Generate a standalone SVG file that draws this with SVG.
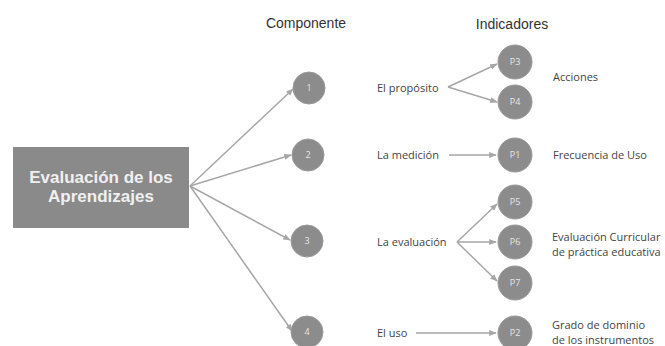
<svg xmlns="http://www.w3.org/2000/svg" width="665" height="346" viewBox="0 0 665 346">
<defs>
<style>
.conn{stroke:#a6a6a6;stroke-width:1.5;fill:none;marker-end:url(#arr)}
.c{fill:#8c8c8c;stroke:#9a9a9a;stroke-width:1}
.cn{font-family:"Open Sans","Liberation Sans",sans-serif;font-size:9px;fill:#e6e6e6;text-anchor:middle}
.hd{font-family:"Liberation Sans",Arial,sans-serif;font-size:14px;fill:#333;text-anchor:middle}
.lb{font-family:"Open Sans","Liberation Sans",sans-serif;font-size:11px;fill:#444}
</style>
<marker id="arr" viewBox="0 0 10 10" refX="9" refY="5" markerWidth="5" markerHeight="5" orient="auto" markerUnits="strokeWidth">
<path d="M0,1 L10,5 L0,9 z" fill="#a6a6a6"/>
</marker>
</defs>
<rect width="665" height="346" fill="#fff"/>
<text class="hd" x="306" y="28">Componente</text>
<text class="hd" x="512" y="29">Indicadores</text>
<g id="connectors">
<line class="conn" x1="190" y1="186" x2="293" y2="89"/>
<line class="conn" x1="190" y1="186" x2="291" y2="155"/>
<line class="conn" x1="190" y1="186" x2="290" y2="240"/>
<line class="conn" x1="190" y1="186" x2="292" y2="331"/>
<line class="conn" x1="448" y1="87" x2="497" y2="64"/>
<line class="conn" x1="448" y1="87" x2="497" y2="102"/>
<line class="conn" x1="449" y1="155" x2="496" y2="155"/>
<line class="conn" x1="457" y1="242" x2="497" y2="204"/>
<line class="conn" x1="457" y1="242" x2="496" y2="242"/>
<line class="conn" x1="457" y1="242" x2="497" y2="281"/>
<line class="conn" x1="416" y1="333" x2="496" y2="333"/>
</g>
<g id="root">
<rect x="13" y="147" width="176" height="81" fill="#8a8a8a"/>
<text x="101" y="183" text-anchor="middle" font-family="Liberation Sans,Arial,sans-serif" font-size="17" font-weight="bold" fill="#f0f0f0">Evaluación de los</text>
<text x="101" y="202" text-anchor="middle" font-family="Liberation Sans,Arial,sans-serif" font-size="17" font-weight="bold" fill="#f0f0f0">Aprendizajes</text>
</g>
<g id="n1"><circle class="c" cx="309" cy="88" r="16"/><text class="cn" x="309" y="91">1</text></g>
<g id="n2"><circle class="c" cx="308" cy="155" r="16"/><text class="cn" x="308" y="158">2</text></g>
<g id="n3"><circle class="c" cx="307" cy="241" r="16"/><text class="cn" x="307" y="244">3</text></g>
<g id="n4"><circle class="c" cx="307" cy="332" r="16"/><text class="cn" x="307" y="335">4</text></g>
<g id="l1"><text class="lb" x="377" y="92">El propósito</text></g>
<g id="l2"><text class="lb" x="377" y="159">La medición</text></g>
<g id="l3"><text class="lb" x="377" y="246">La evaluación</text></g>
<g id="l4"><text class="lb" x="377" y="337">El uso</text></g>
<g id="p3"><circle class="c" cx="515" cy="62" r="17"/><text class="cn" x="515" y="65">P3</text></g>
<g id="p4"><circle class="c" cx="515" cy="102" r="17"/><text class="cn" x="515" y="105">P4</text></g>
<g id="p1"><circle class="c" cx="515" cy="155" r="17"/><text class="cn" x="515" y="158">P1</text></g>
<g id="p5"><circle class="c" cx="515" cy="202" r="17"/><text class="cn" x="515" y="205">P5</text></g>
<g id="p6"><circle class="c" cx="515" cy="242" r="17"/><text class="cn" x="515" y="245">P6</text></g>
<g id="p7"><circle class="c" cx="515" cy="283" r="17"/><text class="cn" x="515" y="286">P7</text></g>
<g id="p2"><circle class="c" cx="515" cy="333" r="17"/><text class="cn" x="515" y="336">P2</text></g>
<g id="i1"><text class="lb" x="553" y="81">Acciones</text></g>
<g id="i2"><text class="lb" x="553" y="159">Frecuencia de Uso</text></g>
<g id="i3"><text class="lb" x="552" y="241">Evaluación Curricular</text><text class="lb" x="552" y="256">de práctica educativa</text></g>
<g id="i4"><text class="lb" x="552" y="329">Grado de dominio</text><text class="lb" x="552" y="344">de los instrumentos</text></g>
</svg>
